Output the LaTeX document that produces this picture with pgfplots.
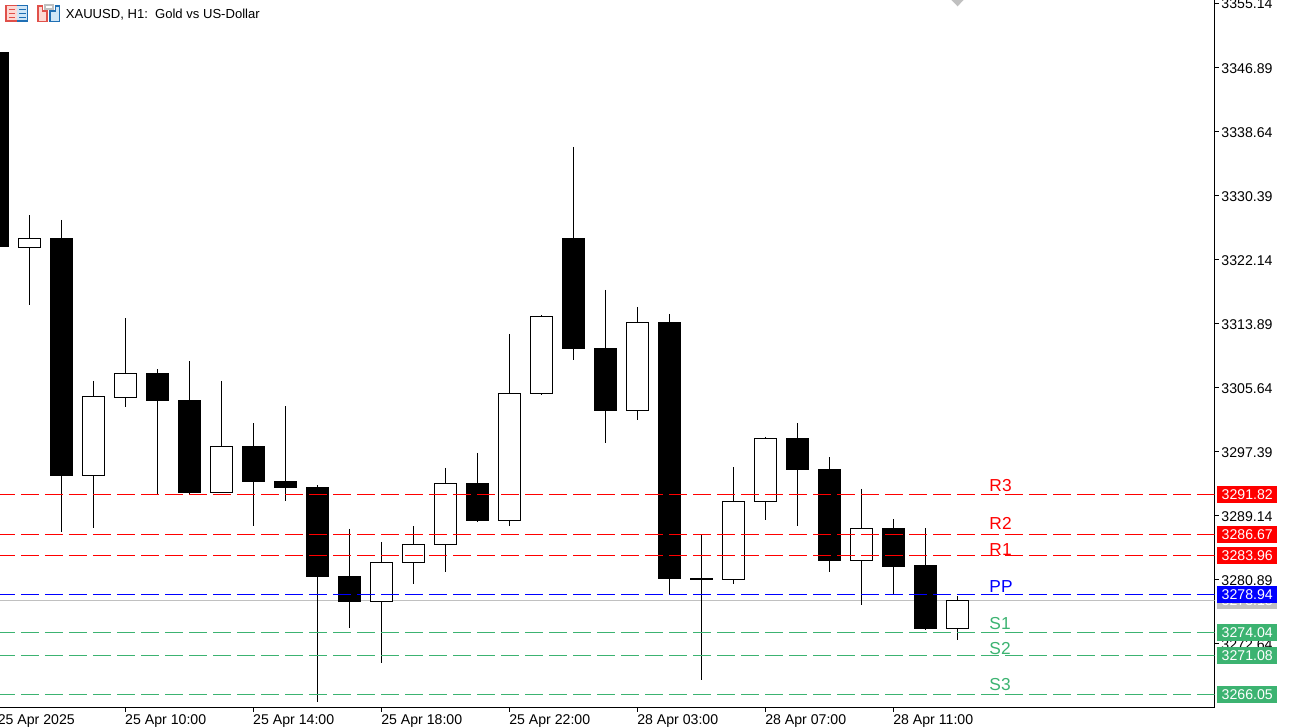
\documentclass[border=0pt]{standalone}
\usepackage{pgfplots}
\pgfplotsset{compat=1.18}
\usepackage{fontspec}
\setmainfont{Liberation Sans}
\definecolor{sgreen}{HTML}{3CB371}
\definecolor{bidgrey}{HTML}{C0C0C0}
\definecolor{icred}{HTML}{E0504A}
\definecolor{icpink}{HTML}{FDD9D4}
\definecolor{icblue}{HTML}{1F6FB4}
\definecolor{iclblue}{HTML}{CFE6F7}
% one hourly candle: index, open, high, low, close
\newcommand\C[5]{%
  \addplot[black,line width=0.75pt,line cap=butt] coordinates {(#1,#3) (#1,#4)};
  \pgfmathparse{#5>=#2 ? 1 : 0}%
  \ifnum\pgfmathresult=1
    \pgfmathsetmacro\xl{#1-0.344}\pgfmathsetmacro\xr{#1+0.344}%
    \addplot[black,fill=white,line width=0.75pt,line join=miter] coordinates {(\xl,#2) (\xr,#2) (\xr,#5) (\xl,#5)} --cycle;
  \else
    \pgfmathsetmacro\xl{#1-0.359}\pgfmathsetmacro\xr{#1+0.359}%
    \addplot[draw=none,fill=black] coordinates {(\xl,#2) (\xr,#2) (\xr,#5) (\xl,#5)} --cycle;
  \fi
}
\newcommand\Lv[2]{\addplot[#1,line width=0.75pt,dash pattern=on 13.5pt off 4.5pt,dash phase=2.25pt] coordinates {(0.078,#2) (38.03,#2)};}
\newcommand\Tag[3]{\node[anchor=west,fill=#1,text=#3,inner sep=0pt,minimum width=45pt,minimum height=12.75pt,font=\fontsize{10.6}{12}\selectfont] at ([xshift=1.875pt]axis cs:38.03,#2) {#2};}
\newcommand\Nm[4]{\node[anchor=base west,inner sep=0pt,text=#1,font=\fontsize{13}{15}\selectfont] at ([yshift=#3pt]axis cs:30.99,#2) {#4};}
\pgfplotsset{frame/.style={
  at={(0pt,-530.625pt)},anchor=south west,scale only axis,
  width=910.875pt,height=530.625pt,
  xmin=0.078,xmax=38.03,ymin=3264.375,ymax=3355.536}}
\begin{document}
\begin{tikzpicture}
\path[use as bounding box] (0pt,0pt) rectangle (969.75pt,-545.25pt);
\begin{axis}[frame,
  axis x line=bottom,axis y line=right,
  axis line style={-,line width=0.75pt,black},
  tick style={black,line width=0.75pt},
  tick align=outside,major tick length=3pt,
  minor tick num=0,
  xtick={4,8,12,16,20,24,28},
  xticklabels={25 Apr 10:00,25 Apr 14:00,25 Apr 18:00,25 Apr 22:00,28 Apr 03:00,28 Apr 07:00,28 Apr 11:00},
  xticklabel style={anchor=base west,inner sep=0pt,font=\fontsize{10.6}{12}\selectfont,yshift=-9.7pt,xshift=-0.4pt},
  ytick={3355.14,3346.89,3338.64,3330.39,3322.14,3313.89,3305.64,3297.39,3289.14,3280.89,3272.64},
  yticklabel style={anchor=west,inner sep=0pt,font=\fontsize{10.6}{12}\selectfont,xshift=2pt,yshift=-0.8pt,
    /pgf/number format/.cd,fixed,fixed zerofill,precision=2,1000 sep={},assume math mode=true},
  scaled y ticks=false,
]
% bid line, under the candles
\addplot[bidgrey,line width=0.75pt] coordinates {(0.078,3278.18) (38.03,3278.18)};
% current-price marker
\addplot[draw=none,fill=bidgrey] coordinates {(29.81,3355.536) (30.19,3355.536) (30.0,3354.72)} --cycle;
% i, open, high, low, close
\C{0}{3348.84}{3348.84}{3323.71}{3323.71}
\C{1}{3323.65}{3327.83}{3316.24}{3324.81}
\C{2}{3324.87}{3327.19}{3286.99}{3294.20}
\C{3}{3294.27}{3306.45}{3287.50}{3304.45}
\C{4}{3304.32}{3314.56}{3303.09}{3307.41}
\C{5}{3307.48}{3307.99}{3291.88}{3303.87}
\C{6}{3304.00}{3309.02}{3291.82}{3292.01}
\C{7}{3292.08}{3306.45}{3292.01}{3298.00}
\C{8}{3298.07}{3301.03}{3287.76}{3293.43}
\C{9}{3293.56}{3303.22}{3290.98}{3292.66}
\C{10}{3292.79}{3293.04}{3265.08}{3281.19}
\C{11}{3281.32}{3287.38}{3274.62}{3277.97}
\C{12}{3278.03}{3285.70}{3270.11}{3283.06}
\C{13}{3283.06}{3287.76}{3280.29}{3285.38}
\C{14}{3285.38}{3295.24}{3281.83}{3293.24}
\C{15}{3293.30}{3297.17}{3288.28}{3288.41}
\C{16}{3288.47}{3312.50}{3287.76}{3304.83}
\C{17}{3304.83}{3314.95}{3304.64}{3314.76}
\C{18}{3324.87}{3336.60}{3309.15}{3310.57}
\C{19}{3310.70}{3318.17}{3298.46}{3302.58}
\C{20}{3302.64}{3315.98}{3301.42}{3313.98}
\C{21}{3314.05}{3315.08}{3279.00}{3280.93}
\C{22}{3281.06}{3286.73}{3267.92}{3280.80}
\C{23}{3280.87}{3295.36}{3280.29}{3290.92}
\C{24}{3290.92}{3299.23}{3288.53}{3299.04}
\C{25}{3299.10}{3301.03}{3287.76}{3294.98}
\C{26}{3295.11}{3296.65}{3281.83}{3283.25}
\C{27}{3283.32}{3292.53}{3277.58}{3287.44}
\C{28}{3287.50}{3288.66}{3279.00}{3282.48}
\C{29}{3282.74}{3287.50}{3274.36}{3274.49}
\C{30}{3274.55}{3278.74}{3273.07}{3278.16}
% pivot levels
\Lv{red}{3291.82}
\Lv{red}{3286.67}
\Lv{red}{3283.96}
\Lv{blue}{3278.94}
\Lv{sgreen}{3274.04}
\Lv{sgreen}{3271.08}
\Lv{sgreen}{3266.05}
\end{axis}
% second axis, same frame, so that the price tags lie over the tick labels
\begin{axis}[frame,hide axis,clip=false]
\Tag{bidgrey}{3278.18}{white}
\Tag{red}{3291.82}{white}
\Tag{red}{3286.67}{white}
\Tag{red}{3283.96}{white}
\Tag{blue}{3278.94}{white}
\Tag{sgreen}{3274.04}{white}
\Tag{sgreen}{3271.08}{white}
\Tag{sgreen}{3266.05}{white}
\Nm{red}{3291.82}{1.9}{R3}
\Nm{red}{3286.67}{3.4}{R2}
\Nm{red}{3283.96}{0.1}{R1}
\Nm{blue}{3278.94}{1.6}{PP}
\Nm{sgreen}{3274.04}{1.9}{S1}
\Nm{sgreen}{3271.08}{0.4}{S2}
\Nm{sgreen}{3266.05}{2.8}{S3}
\node[anchor=base west,inner sep=0pt,font=\fontsize{10.6}{12}\selectfont] at ([yshift=-12.6pt]axis cs:0,3264.375) {25 Apr 2025};
\end{axis}
% header
\node[anchor=base west,inner sep=0pt,font=\fontsize{9.8}{12}\selectfont] at (49.2pt,-14.25pt) {XAUUSD, H1:\ \ Gold vs US-Dollar};
% icons
\begin{scope}[x=0.75pt,y=-0.75pt,line width=1.1pt]
 \fill[icpink] (6,5.5) rectangle (17,21);
 \fill[iclblue] (17,5.5) rectangle (27.5,21);
 \draw[icred] (17,5.5) -- (6,5.5) -- (6,21) -- (17,21);
 \draw[icblue] (17,5.5) -- (27.5,5.5) -- (27.5,21) -- (17,21);
 \draw[icred] (8.5,9.5)--(15,9.5) (8.5,13.5)--(15,13.5) (8.5,17.5)--(15,17.5);
 \draw[icblue] (19,9.5)--(25.5,9.5) (19,13.5)--(25.5,13.5) (19,17.5)--(25.5,17.5);
 \draw[icred,fill=icpink] (38,6) -- (42.5,6) -- (42.5,11) -- (47,11) -- (47,21.5) -- (38,21.5) -- cycle;
 \draw[icblue,fill=iclblue] (59.5,6) -- (55.5,6) -- (55.5,11) -- (50,11) -- (50,21.5) -- (59.5,21.5) -- cycle;
 \draw[bidgrey,fill=white] (45,5) rectangle (53,9);
\end{scope}
\end{tikzpicture}
\end{document}
